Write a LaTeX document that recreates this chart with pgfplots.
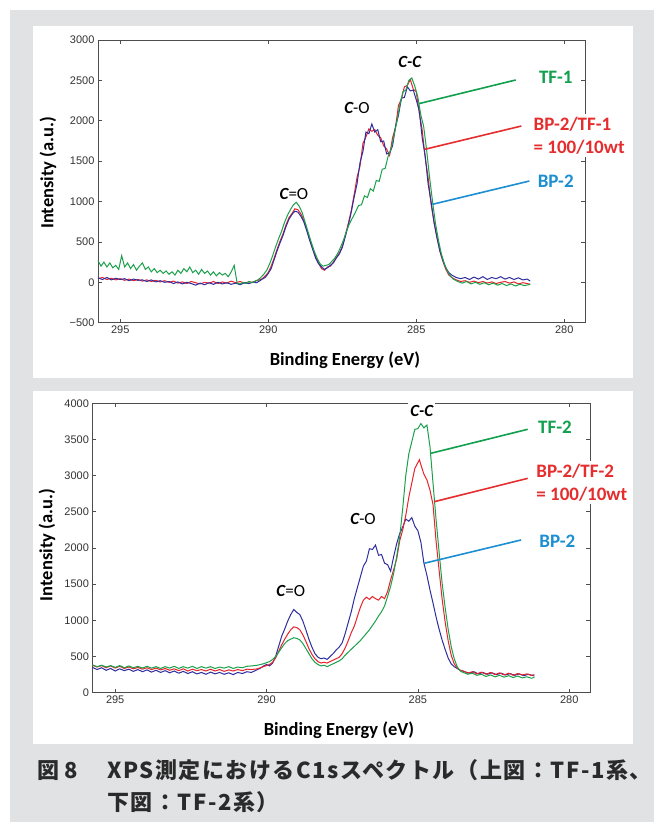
\documentclass[border=0pt]{standalone}
\usepackage{pgfplots}
\pgfplotsset{compat=1.18}
\usepackage{fontspec}
\setmainfont{Carlito}
\newfontfamily\tickfont{Liberation Sans}
\newfontfamily\cjk{Noto Sans CJK JP}

\definecolor{bggray}{HTML}{E1E2E4}
\definecolor{axisgray}{HTML}{4D4D4D}
\definecolor{tickgray}{HTML}{333333}
\definecolor{dblue}{HTML}{2E2E9E}
\definecolor{dred}{HTML}{E8232A}
\definecolor{dgreen}{HTML}{1BA04C}
\definecolor{lgreen}{HTML}{12A04E}
\definecolor{lred}{HTML}{E62D2E}
\definecolor{lblue}{HTML}{1C8ED2}
\definecolor{capcol}{HTML}{2A2A2A}

\pgfplotsset{xps/.style={
  scale only axis,
  x dir=reverse,
  xmin=279.3, xmax=295.75,
  xtick={280,285,290,295},
  xticklabels={280,285,290,295},
  axis line style={axisgray, line width=0.8pt},
  tick style={axisgray, line width=0.7pt},
  major tick length=4pt,
  tick align=inside,
  tick label style={font=\tickfont\fontsize{11}{13}\selectfont, text=tickgray},
  clip=false,
  every axis plot/.append style={line width=1pt, mark=none},
}}
\tikzset{
  axlab/.style={font=\bfseries\fontsize{18.5}{22}\selectfont, text=black, anchor=center},
  peak/.style={font=\fontsize{17}{20}\selectfont, text=black, inner sep=0pt},
  tag/.style={font=\bfseries\fontsize{19}{23}\selectfont, inner sep=0pt, anchor=west, align=left},
  lead/.style={line width=1.6pt},
  captxt/.style={anchor=base west, inner sep=0pt, text=capcol, font=\cjk\bfseries\fontsize{22}{26}\selectfont\addfontfeatures{LetterSpace=7}},
}

\begin{document}
\begin{tikzpicture}
\path (0pt,0pt) rectangle (654pt,-822pt);
\fill[bggray] (10pt,-10pt) rectangle (654pt,-822pt);
\fill[white] (33pt,-26pt) rectangle (633pt,-378pt);
\fill[white] (33pt,-391pt) rectangle (633pt,-744pt);

% upper chart: TF-1 series
\begin{axis}[xps,
  at={(98pt,-322.7pt)}, anchor=south west,
  width=487pt, height=282.7pt,
  ymin=-500, ymax=3000,
  ytick={-500,0,500,1000,1500,2000,2500,3000},
  yticklabels={−500,0,500,1000,1500,2000,2500,3000},
  xlabel={Binding Energy (eV)},
  ylabel={Intensity (a.u.)},
  xlabel style={axlab, at={(axis description cs:0.507,-0.132)}},
  ylabel style={axlab, at={(axis description cs:-0.1027,0.53)}},
]
\addplot[dred] coordinates {
(295.75,45) (295.6,60) (295.45,35) (295.3,50) (295.15,30) (295.0,45) (294.85,25) (294.7,40)
(294.55,20) (294.4,35) (294.25,15) (294.1,30) (293.95,10) (293.8,25) (293.65,5) (293.5,20)
(293.35,0) (293.2,15) (293.05,-10) (292.9,5) (292.75,-15) (292.6,10) (292.45,-5) (292.3,-20)
(292.15,0) (292.0,-10) (291.85,10) (291.7,-15) (291.55,5) (291.4,-10) (291.25,15) (291.1,-5)
(290.95,10) (290.8,-10) (290.65,5) (290.5,0) (290.4,20) (290.3,30) (290.2,45) (290.1,80)
(290.0,120) (289.9,200) (289.8,300) (289.7,410) (289.6,510) (289.5,600) (289.4,710) (289.3,800)
(289.2,850) (289.1,910) (289.0,900) (288.9,850) (288.8,770) (288.7,660) (288.6,530) (288.5,420)
(288.4,320) (288.3,240) (288.2,170) (288.1,150) (288.0,190) (287.9,200) (287.8,250) (287.7,310)
(287.6,360) (287.5,440) (287.4,580) (287.3,720) (287.2,880) (287.1,1080) (287.0,1300) (286.9,1440)
(286.8,1720) (286.7,1800) (286.6,1900) (286.5,1870) (286.4,1890) (286.3,1820) (286.2,1790) (286.1,1690)
(286.0,1650) (285.9,1570) (285.8,1790) (285.7,1920) (285.6,2190) (285.5,2270) (285.4,2420) (285.3,2440)
(285.2,2510) (285.1,2390) (285.0,2360) (284.9,2100) (284.8,1890) (284.7,1550) (284.6,1300) (284.5,970)
(284.4,750) (284.3,560) (284.2,380) (284.1,260) (284.0,160) (283.9,90) (283.8,60) (283.65,30)
(283.5,10) (283.35,20) (283.2,0) (283.05,15) (282.9,-5) (282.75,10) (282.6,-10) (282.45,5)
(282.3,-15) (282.15,0) (282.0,10) (281.85,-10) (281.7,5) (281.55,-20) (281.4,-5) (281.25,-15) (281.15,-25)
};
\addplot[dblue] coordinates {
(295.75,55) (295.6,35) (295.45,60) (295.3,30) (295.15,50) (295.0,35) (294.85,45) (294.7,20)
(294.55,40) (294.4,25) (294.25,30) (294.1,10) (293.95,30) (293.8,5) (293.65,20) (293.5,0)
(293.35,10) (293.2,-15) (293.05,5) (292.9,-20) (292.75,0) (292.6,-15) (292.45,-35) (292.3,-10)
(292.15,-30) (292.0,-5) (291.85,-25) (291.7,0) (291.55,-20) (291.4,-5) (291.25,-25) (291.1,-10)
(290.95,-30) (290.8,-5) (290.65,-15) (290.5,5) (290.4,-5) (290.3,15) (290.2,40) (290.1,60)
(290.0,110) (289.9,170) (289.8,280) (289.7,390) (289.6,490) (289.5,580) (289.4,690) (289.3,780)
(289.2,840) (289.1,880) (289.0,870) (288.9,820) (288.8,750) (288.7,640) (288.6,520) (288.5,410)
(288.4,300) (288.3,230) (288.2,190) (288.1,160) (288.0,180) (287.9,210) (287.8,240) (287.7,300)
(287.6,350) (287.5,430) (287.4,560) (287.3,700) (287.2,860) (287.1,1050) (287.0,1220) (286.9,1480)
(286.8,1620) (286.7,1860) (286.6,1840) (286.5,1960) (286.4,1860) (286.3,1890) (286.2,1740) (286.1,1750)
(286.0,1590) (285.9,1600) (285.8,1690) (285.7,1930) (285.6,2070) (285.5,2280) (285.4,2290) (285.3,2420)
(285.2,2370) (285.1,2380) (285.0,2260) (284.9,2130) (284.8,1790) (284.7,1570) (284.6,1220) (284.5,1000)
(284.4,740) (284.3,550) (284.2,390) (284.1,270) (284.0,180) (283.9,120) (283.8,90) (283.65,60)
(283.5,45) (283.35,60) (283.2,35) (283.05,65) (282.9,40) (282.75,70) (282.6,35) (282.45,60)
(282.3,45) (282.15,70) (282.0,40) (281.85,60) (281.7,35) (281.55,55) (281.4,30) (281.25,40) (281.15,15)
};
\addplot[dgreen] coordinates {
(295.75,270) (295.65,200) (295.55,250) (295.45,190) (295.35,240) (295.25,180) (295.15,210) (295.05,160)
(294.95,330) (294.85,190) (294.75,240) (294.65,170) (294.55,220) (294.45,150) (294.35,200) (294.25,240)
(294.15,160) (294.05,190) (293.95,130) (293.85,170) (293.75,120) (293.65,150) (293.55,110) (293.45,140)
(293.35,100) (293.25,130) (293.15,90) (293.05,150) (292.95,110) (292.85,170) (292.75,130) (292.65,190)
(292.55,120) (292.45,150) (292.35,100) (292.25,160) (292.15,110) (292.05,140) (291.95,90) (291.85,130)
(291.75,80) (291.65,120) (291.55,90) (291.45,110) (291.35,70) (291.25,130) (291.15,210) (291.1,100)
(291.05,-10) (290.95,-20) (290.85,0) (290.75,-15) (290.65,10) (290.55,-5) (290.45,15) (290.35,30)
(290.25,60) (290.15,100) (290.05,150) (289.95,230) (289.85,330) (289.75,440) (289.65,540) (289.55,630)
(289.45,740) (289.35,830) (289.25,900) (289.15,960) (289.05,990) (288.95,940) (288.85,860) (288.75,740)
(288.65,620) (288.55,500) (288.45,390) (288.35,300) (288.25,230) (288.15,200) (288.05,210) (287.95,220)
(287.85,260) (287.75,300) (287.65,360) (287.55,440) (287.45,530) (287.35,640) (287.25,730) (287.15,800)
(287.05,870) (286.95,950) (286.85,960) (286.75,1070) (286.65,1050) (286.55,1160) (286.45,1130) (286.35,1260)
(286.25,1250) (286.15,1400) (286.05,1410) (285.95,1560) (285.85,1650) (285.75,1820) (285.65,2000) (285.55,2200)
(285.45,2360) (285.35,2380) (285.25,2500) (285.15,2530) (285.05,2430) (284.95,2300) (284.85,2080) (284.75,1930)
(284.65,1640) (284.55,1300) (284.45,1000) (284.35,730) (284.25,520) (284.15,350) (284.05,230) (283.95,140)
(283.85,80) (283.75,40) (283.6,10) (283.45,-10) (283.3,10) (283.15,-20) (283.0,0) (282.85,-25)
(282.7,-5) (282.55,-30) (282.4,-10) (282.25,-35) (282.1,-15) (281.95,-40) (281.8,-20) (281.65,-45)
(281.5,-25) (281.35,-40) (281.2,-30) (281.15,-20)
};
\node[peak] at (axis cs:285.22,2727) {\bfseries\itshape C-C};
\node[peak] at (axis cs:287.0,2157) {\bfseries\itshape C\normalfont -O};
\node[peak] at (axis cs:289.13,1093) {\bfseries\itshape C\normalfont =O};
\draw[lead, lgreen] (axis cs:284.9,2213) -- (axis cs:281.64,2505);
\draw[lead, lred] (axis cs:284.71,1647) -- (axis cs:281.45,1935);
\draw[lead, lblue] (axis cs:284.45,966) -- (axis cs:281.18,1254);
\node[tag, text=lgreen] at (axis cs:280.86,2536) {TF-1};
\node[tag, text=lred, fill=white, inner sep=3pt] at (axis cs:281.14,1817) {BP-2/TF-1\\= 100/10wt};
\node[tag, text=lblue] at (axis cs:280.9,1248) {BP-2};
\end{axis}

% lower chart: TF-2 series
\begin{axis}[xps,
  at={(92.5pt,-692.7pt)}, anchor=south west,
  width=497.9pt, height=289.4pt,
  ymin=0, ymax=4000,
  ytick={0,500,1000,1500,2000,2500,3000,3500,4000},
  yticklabels={0,500,1000,1500,2000,2500,3000,3500,4000},
  xlabel={Binding Energy (eV)},
  ylabel={Intensity (a.u.)},
  xlabel style={axlab, at={(axis description cs:0.495,-0.129)}},
  ylabel style={axlab, at={(axis description cs:-0.0914,0.51)}},
]
\addplot[dblue] coordinates {
(295.75,350) (295.6,320) (295.45,345) (295.3,310) (295.15,335) (295.0,300) (294.85,330) (294.7,305)
(294.55,325) (294.4,295) (294.25,320) (294.1,290) (293.95,315) (293.8,285) (293.65,310) (293.5,280)
(293.35,305) (293.2,275) (293.05,300) (292.9,270) (292.75,295) (292.6,265) (292.45,290) (292.3,260)
(292.15,280) (292.0,255) (291.85,285) (291.7,260) (291.55,280) (291.4,255) (291.25,275) (291.1,250)
(290.95,280) (290.8,265) (290.65,290) (290.5,280) (290.4,300) (290.3,320) (290.2,340) (290.1,370)
(290.0,390) (289.9,370) (289.8,410) (289.7,500) (289.6,640) (289.5,780) (289.4,880) (289.3,990)
(289.2,1080) (289.1,1150) (289.0,1110) (288.9,1080) (288.8,990) (288.7,870) (288.6,740) (288.5,630)
(288.4,540) (288.3,490) (288.2,470) (288.1,480) (288.0,460) (287.9,500) (287.8,540) (287.7,590)
(287.6,630) (287.5,690) (287.4,820) (287.3,970) (287.2,1120) (287.1,1300) (287.0,1450) (286.9,1600)
(286.8,1750) (286.7,1820) (286.6,1990) (286.5,1980) (286.4,2040) (286.3,1900) (286.2,1910) (286.1,1790)
(286.0,1770) (285.9,1680) (285.8,1880) (285.7,2060) (285.6,2200) (285.5,2290) (285.4,2400) (285.3,2370)
(285.2,2420) (285.1,2300) (285.0,2240) (284.9,2080) (284.8,1790) (284.7,1620) (284.6,1420) (284.5,1240)
(284.4,1050) (284.3,880) (284.2,730) (284.1,600) (284.0,480) (283.9,400) (283.8,360) (283.7,335)
(283.6,310) (283.45,290) (283.3,270) (283.15,290) (283.0,260) (282.85,280) (282.7,255) (282.55,275)
(282.4,250) (282.25,270) (282.1,245) (281.95,265) (281.8,240) (281.65,260) (281.5,235) (281.35,255) (281.15,230)
};
\addplot[dred] coordinates {
(295.75,380) (295.6,355) (295.45,375) (295.3,345) (295.15,370) (295.0,340) (294.85,365) (294.7,335)
(294.55,355) (294.4,330) (294.25,350) (294.1,325) (293.95,345) (293.8,320) (293.65,340) (293.5,315)
(293.35,335) (293.2,310) (293.05,330) (292.9,305) (292.75,330) (292.6,300) (292.45,325) (292.3,305)
(292.15,320) (292.0,300) (291.85,325) (291.7,300) (291.55,320) (291.4,295) (291.25,315) (291.1,300)
(290.95,320) (290.8,305) (290.65,325) (290.5,320) (290.3,330) (290.1,360) (289.9,390) (289.8,420)
(289.7,480) (289.6,570) (289.5,660) (289.4,740) (289.3,810) (289.2,870) (289.1,910) (289.0,900)
(288.9,870) (288.8,800) (288.7,710) (288.6,610) (288.5,530) (288.4,470) (288.3,430) (288.2,410)
(288.1,420) (288.0,410) (287.9,430) (287.8,450) (287.7,470) (287.6,490) (287.5,540) (287.4,620)
(287.3,720) (287.2,830) (287.1,920) (287.0,1050) (286.9,1180) (286.8,1280) (286.7,1320) (286.6,1290)
(286.5,1330) (286.4,1300) (286.3,1280) (286.2,1330) (286.1,1300) (286.0,1400) (285.9,1560) (285.8,1700)
(285.7,1850) (285.6,2100) (285.5,2250) (285.4,2450) (285.3,2700) (285.2,2900) (285.1,3100) (285.0,3180)
(284.95,3220) (284.9,3150) (284.8,3020) (284.7,2940) (284.6,2800) (284.5,2600) (284.4,2100) (284.3,1700)
(284.2,1300) (284.1,980) (284.0,720) (283.9,520) (283.8,400) (283.7,340) (283.6,310) (283.5,300)
(283.35,270) (283.2,290) (283.05,260) (282.9,285) (282.75,255) (282.6,280) (282.45,250) (282.3,275)
(282.15,245) (282.0,270) (281.85,240) (281.7,265) (281.55,245) (281.4,260) (281.25,240) (281.15,250)
};
\addplot[dgreen] coordinates {
(295.75,385) (295.6,360) (295.45,380) (295.3,355) (295.15,375) (295.0,350) (294.85,375) (294.7,345)
(294.55,370) (294.4,345) (294.25,365) (294.1,340) (293.95,365) (293.8,340) (293.65,360) (293.5,335)
(293.35,360) (293.2,340) (293.05,365) (292.9,335) (292.75,360) (292.6,340) (292.45,365) (292.3,335)
(292.15,360) (292.0,340) (291.85,360) (291.7,335) (291.55,355) (291.4,340) (291.25,360) (291.1,335)
(290.95,355) (290.8,345) (290.65,365) (290.5,370) (290.3,380) (290.1,400) (289.9,430) (289.8,460)
(289.7,500) (289.6,560) (289.5,620) (289.4,680) (289.3,720) (289.2,740) (289.1,760) (289.0,750)
(288.9,730) (288.8,680) (288.7,610) (288.6,540) (288.5,470) (288.4,420) (288.3,390) (288.2,370)
(288.1,380) (288.0,360) (287.9,380) (287.8,400) (287.7,420) (287.6,440) (287.5,470) (287.4,520)
(287.3,560) (287.2,600) (287.1,640) (287.0,680) (286.9,720) (286.8,770) (286.7,820) (286.6,870)
(286.5,930) (286.4,990) (286.3,1060) (286.2,1120) (286.1,1200) (286.0,1330) (285.9,1470) (285.8,1650)
(285.7,1880) (285.6,2150) (285.5,2550) (285.4,3000) (285.3,3300) (285.2,3470) (285.1,3640) (285.0,3650)
(284.9,3720) (284.8,3660) (284.7,3700) (284.6,3400) (284.5,2900) (284.4,2400) (284.3,1950) (284.2,1520)
(284.1,1180) (284.0,880) (283.9,640) (283.8,470) (283.7,360) (283.6,300) (283.5,280) (283.35,255)
(283.2,270) (283.05,240) (282.9,255) (282.75,225) (282.6,245) (282.45,220) (282.3,240) (282.15,215)
(282.0,235) (281.85,210) (281.7,230) (281.55,205) (281.4,220) (281.25,200) (281.15,210)
};
\node[peak, fill=white, inner sep=2pt] at (axis cs:284.87,3893) {\bfseries\itshape C-C};
\node[peak] at (axis cs:286.81,2401) {\bfseries\itshape C\normalfont -O};
\node[peak] at (axis cs:289.2,1406) {\bfseries\itshape C\normalfont =O};
\draw[lead, lgreen] (axis cs:284.57,3309) -- (axis cs:281.37,3641);
\draw[lead, lred] (axis cs:284.46,2640) -- (axis cs:281.37,2963);
\draw[lead, lblue] (axis cs:284.79,1789) -- (axis cs:281.59,2111);
\node[tag, text=lgreen] at (axis cs:281.03,3672) {TF-2};
\node[tag, text=lred, fill=white, inner sep=3pt] at (axis cs:281.19,2905) {BP-2/TF-2\\= 100/10wt};
\node[tag, text=lblue] at (axis cs:280.99,2097) {BP-2};
\end{axis}

% caption
\node[captxt] at (37pt,-778pt) {図\hspace{5pt}8};
\node[captxt] at (107pt,-778pt) {XPS測定におけるC1sスペクトル（上図：TF-1系、};
\node[captxt] at (107pt,-810pt) {下図：TF-2系）};
\end{tikzpicture}
\end{document}
